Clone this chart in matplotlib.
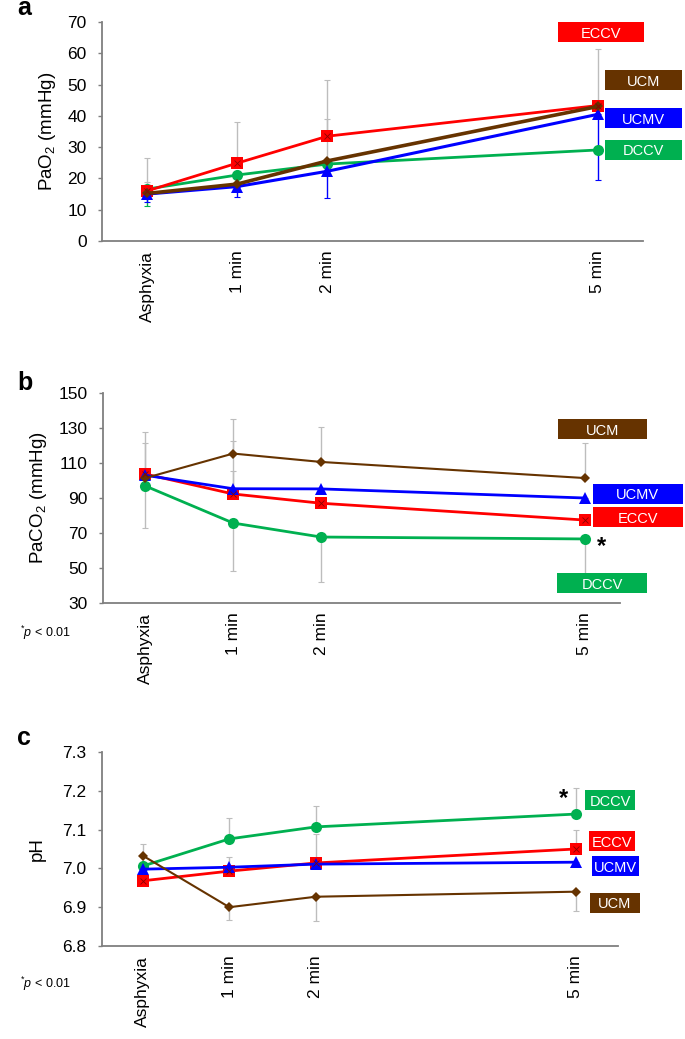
import matplotlib.pyplot as plt
from matplotlib.patches import Rectangle
from matplotlib.transforms import ScaledTranslation

plt.rcParams['font.family'] = ['Liberation Sans', 'DejaVu Sans']
plt.rcParams['mathtext.fontset'] = 'custom'
plt.rcParams['mathtext.rm'] = 'Liberation Sans'
plt.rcParams['mathtext.it'] = 'Liberation Sans:italic'

times = [0, 1, 2, 5]
time_labels = ["Asphyxia", "1 min", "2 min", "5 min"]
groups = ["DCCV", "ECCV", "UCMV", "UCM"]
colors = {"DCCV": "#00B050", "ECCV": "#FF0000", "UCMV": "#0000FF", "UCM": "#663300"}
markers = {"DCCV": "o", "ECCV": "s", "UCMV": "^", "UCM": "D"}

# a: PaO2 (mmHg)
pao2_dccv = [16.6, 21.1, 24.6, 29.1]
pao2_eccv = [16.0, 24.9, 33.5, 43.3]
pao2_ucmv = [15.0, 17.4, 22.3, 40.5]
pao2_ucm = [15.2, 18.2, 25.6, 43.0]
# error bars as (lower, upper)
pao2_err_dccv = ([5.5, 0, 0, 0], [0, 0, 0, 0])
pao2_err_eccv = ([0, 0, 0, 0], [10.5, 13.0, 18.0, 18.0])
pao2_err_ucmv = ([2.5, 3.4, 8.5, 21.0], [0, 0, 0, 0])
pao2_err_ucm = ([0, 0, 0, 0], [3.5, 0, 13.5, 0])

# b: PaCO2 (mmHg)
paco2_dccv = [96.9, 75.7, 67.7, 66.6]
paco2_eccv = [103.7, 92.3, 87.0, 77.4]
paco2_ucmv = [103.0, 95.3, 95.2, 90.0]
paco2_ucm = [101.4, 115.4, 110.6, 101.4]
paco2_err_dccv = ([24.0, 27.4, 25.7, 20.0], [0, 0, 0, 0])
paco2_err_eccv = ([0, 0, 0, 0], [24.0, 30.0, 0, 0])
paco2_err_ucmv = ([0, 0, 0, 0], [0, 10.0, 0, 0])
paco2_err_ucm = ([0, 0, 0, 0], [20.0, 20.0, 20.0, 20.0])

# c: pH
ph_dccv = [7.006, 7.076, 7.107, 7.140]
ph_eccv = [6.968, 6.993, 7.014, 7.050]
ph_ucmv = [6.998, 7.003, 7.011, 7.016]
ph_ucm = [7.033, 6.900, 6.927, 6.940]
ph_err_dccv = ([0, 0, 0, 0], [0.057, 0.054, 0.053, 0.067])
ph_err_eccv = ([0, 0, 0, 0], [0, 0.037, 0.075, 0.05])
ph_err_ucmv = ([0, 0, 0, 0], [0, 0, 0, 0])
ph_err_ucm = ([0, 0.033, 0.063, 0.05], [0, 0, 0, 0])

fig = plt.figure(figsize=(6.85, 10.39), dpi=100)
W, H = 685.0, 1039.0


def make_axes(left, top, right, bottom):
    return fig.add_axes([left / W, 1 - bottom / H, (right - left) / W, (bottom - top) / H])


def label_box(ax, x, y, text, color, w_px, h_px=20):
    trans = fig.dpi_scale_trans + ScaledTranslation(x, y, ax.transData)
    rect = Rectangle((-w_px / 200, -h_px / 200), w_px / 100, h_px / 100, transform=trans,
                     facecolor=color, edgecolor='none', clip_on=False, zorder=5)
    ax.add_patch(rect)
    ax.text(x, y, text, color='white', ha='center', va='center_baseline', fontsize=10.5,
            zorder=6, clip_on=False)


def draw_panel(ax, series, errs, err_colors, lws):
    for g in groups:
        lo, up = errs[g]
        ax.errorbar(times, series[g], yerr=[lo, up], fmt='none', ecolor=err_colors[g],
                    elinewidth=1, capsize=2, capthick=0.8, zorder=2)
    for g in groups:
        ms = 5 if g == "UCM" else 8
        ax.plot(times, series[g], color=colors[g], lw=lws[g], marker=markers[g],
                markersize=ms, markeredgewidth=0, zorder=3)
        if g == "ECCV":
            ax.plot(times, series[g], ls='none', marker='x', color='#8B0000',
                    markersize=4, markeredgewidth=0.6, zorder=4)
    for s in ['top', 'right']:
        ax.spines[s].set_visible(False)
    for s in ['left', 'bottom']:
        ax.spines[s].set_color('#7f7f7f')
        ax.spines[s].set_linewidth(1.3)
    ax.set_xticks(times)
    ax.set_xticklabels(time_labels, rotation=90, fontsize=12.5)
    ax.tick_params(axis='x', length=0, pad=7)
    ax.tick_params(axis='y', direction='out', length=3, width=1, color='#7f7f7f',
                   labelsize=12.5, pad=8)


gray = '#bdbdbd'

# panel a
ax1 = make_axes(102, 22, 643, 241)
draw_panel(ax1,
           {"DCCV": pao2_dccv, "ECCV": pao2_eccv, "UCMV": pao2_ucmv, "UCM": pao2_ucm},
           {"DCCV": pao2_err_dccv, "ECCV": pao2_err_eccv, "UCMV": pao2_err_ucmv, "UCM": pao2_err_ucm},
           {"DCCV": colors["DCCV"], "ECCV": gray, "UCMV": colors["UCMV"], "UCM": gray},
           {"DCCV": 2, "ECCV": 2, "UCMV": 2.2, "UCM": 2.6})
ax1.set_xlim(-0.5, 5.5)
ax1.set_ylim(0, 70)
ax1.set_yticks(range(0, 71, 10))
ax1.set_ylabel("PaO$_2$ (mmHg)", fontsize=13.5, labelpad=7)
label_box(ax1, 5.03, 66.8, "ECCV", colors["ECCV"], 86)
label_box(ax1, 5.51, 51.4, "UCM", colors["UCM"], 77)
label_box(ax1, 5.51, 39.3, "UCMV", colors["UCMV"], 77)
label_box(ax1, 5.51, 29.1, "DCCV", colors["DCCV"], 77)
fig.text(17 / W, 1 - 15 / H, "a", fontsize=18, fontweight='bold', va='baseline')

# panel b
ax2 = make_axes(103, 393, 620, 603)
draw_panel(ax2,
           {"DCCV": paco2_dccv, "ECCV": paco2_eccv, "UCMV": paco2_ucmv, "UCM": paco2_ucm},
           {"DCCV": paco2_err_dccv, "ECCV": paco2_err_eccv, "UCMV": paco2_err_ucmv, "UCM": paco2_err_ucm},
           {g: gray for g in groups},
           {"DCCV": 2, "ECCV": 2, "UCMV": 2, "UCM": 1.5})
ax2.set_xlim(-0.48, 5.4)
ax2.set_ylim(30, 150)
ax2.set_yticks(range(30, 151, 20))
ax2.set_ylabel("PaCO$_2$ (mmHg)", fontsize=13.5, labelpad=7)
label_box(ax2, 5.2, 129.4, "UCM", colors["UCM"], 89)
label_box(ax2, 5.6, 92.3, "UCMV", colors["UCMV"], 90)
label_box(ax2, 5.6, 78.9, "ECCV", colors["ECCV"], 90)
label_box(ax2, 5.2, 41.4, "DCCV", colors["DCCV"], 90)
ax2.text(5.19, 62.5, "*", fontsize=17, fontweight='bold', ha='center', va='center')
fig.text(17 / W, 1 - 390 / H, "b", fontsize=18, fontweight='bold', va='baseline')
fig.text(20 / W, 1 - 637 / H, r"$^{*}\mathit{p}$ < 0.01", fontsize=9)

# panel c
ax3 = make_axes(102, 752, 618, 946)
draw_panel(ax3,
           {"DCCV": ph_dccv, "ECCV": ph_eccv, "UCMV": ph_ucmv, "UCM": ph_ucm},
           {"DCCV": ph_err_dccv, "ECCV": ph_err_eccv, "UCMV": ph_err_ucmv, "UCM": ph_err_ucm},
           {g: gray for g in groups},
           {"DCCV": 2, "ECCV": 2, "UCMV": 2, "UCM": 1.5})
ax3.set_xlim(-0.47, 5.49)
ax3.set_ylim(6.8, 7.3)
ax3.set_yticks([6.8, 6.9, 7.0, 7.1, 7.2, 7.3])
ax3.set_yticklabels(["6.8", "6.9", "7.0", "7.1", "7.2", "7.3"])
ax3.set_ylabel("pH", fontsize=13.5, labelpad=12)
label_box(ax3, 5.4, 7.176, "DCCV", colors["DCCV"], 50)
label_box(ax3, 5.42, 7.07, "ECCV", colors["ECCV"], 46)
label_box(ax3, 5.46, 7.006, "UCMV", colors["UCMV"], 47)
label_box(ax3, 5.45, 6.911, "UCM", colors["UCM"], 50)
ax3.text(4.86, 7.18, "*", fontsize=17, fontweight='bold', ha='center', va='center')
fig.text(17 / W, 1 - 745 / H, "c", fontsize=18, fontweight='bold', va='baseline')
fig.text(20 / W, 1 - 988 / H, r"$^{*}\mathit{p}$ < 0.01", fontsize=9)

fig.savefig("out.png", dpi=100)
